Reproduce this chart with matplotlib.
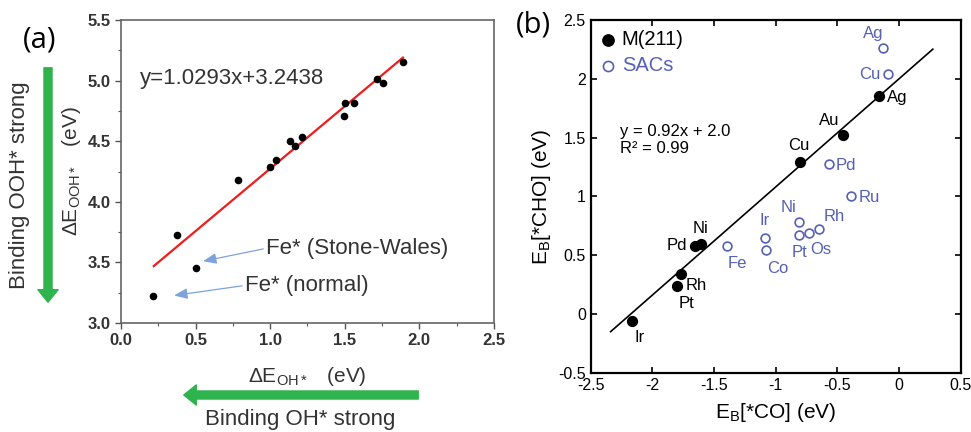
import numpy as np
import matplotlib.pyplot as plt
from matplotlib.patches import FancyArrowPatch
from matplotlib.ticker import MultipleLocator

plt.rcParams['font.family'] = ['Liberation Sans', 'DejaVu Sans']
plt.rcParams['mathtext.fontset'] = 'custom'
plt.rcParams['mathtext.rm'] = 'Liberation Sans'
plt.rcParams['mathtext.it'] = 'Liberation Sans'
plt.rcParams['mathtext.default'] = 'regular'

# panel (a): OOH* vs OH* binding
oh = [0.215, 0.374, 0.501, 0.787, 0.998, 1.04, 1.134, 1.166, 1.215,
      1.494, 1.503, 1.564, 1.718, 1.758, 1.893]
ooh = [3.22, 3.726, 3.456, 4.183, 4.288, 4.343, 4.503, 4.461, 4.535,
       4.712, 4.817, 4.817, 5.01, 4.977, 5.153]
fit_a_x = [0.22, 1.89]
fit_a_y = [3.47, 5.19]
a_xticks = [0.0, 0.5, 1.0, 1.5, 2.0, 2.5]
a_yticks = [3.0, 3.5, 4.0, 4.5, 5.0, 5.5]

# panel (b): CHO vs CO binding
m_names = ['Ag', 'Au', 'Cu', 'Ni', 'Pd', 'Rh', 'Pt', 'Ir']
m_co = [-0.159, -0.451, -0.803, -1.608, -1.654, -1.77, -1.803, -2.168]
m_cho = [1.856, 1.522, 1.29, 0.595, 0.581, 0.34, 0.238, -0.057]
sac_names = ['Ag', 'Cu', 'Pd', 'Ru', 'Ni', 'Rh', 'Os', 'Pt', 'Ir', 'Co', 'Fe']
sac_co = [-0.127, -0.086, -0.57, -0.391, -0.808, -0.646, -0.727, -0.813,
          -1.086, -1.078, -1.395]
sac_cho = [2.259, 2.041, 1.275, 1.003, 0.782, 0.72, 0.686, 0.669,
           0.649, 0.544, 0.576]
fit_b_x = [-2.338, 0.274]
fit_b_y = [-0.151, 2.252]

# label offsets in points
m_off = {'Ag': (12.7, -1.4), 'Au': (-10, 10.3), 'Cu': (-0.5, 12), 'Ni': (0, 11.3),
         'Pd': (-12.7, 0), 'Rh': (11, -8.6), 'Pt': (7.2, -12.5), 'Ir': (5.5, -12.2)}
sac_off = {'Ag': (-7.2, 10.8), 'Cu': (-13.7, -0.7), 'Pd': (12.5, -1.2), 'Ru': (13.4, -1.2),
           'Ni': (-7.9, 10.6), 'Rh': (10.8, 9.1), 'Os': (8.2, -12), 'Pt': (0.2, -12.2),
           'Ir': (0, 12.2), 'Co': (8.4, -13.2), 'Fe': (7.4, -12.2)}

green = '#2fb34c'
blue = '#5560b5'
grey_txt = '#333333'

fig = plt.figure(figsize=(9.71, 4.32), dpi=100)

# ---------- (a) ----------
ax1 = fig.add_axes([0.1246, 0.2523, 0.3841, 0.7014])
ax1.scatter(oh, ooh, s=20, color='black', zorder=3)
ax1.plot(fit_a_x, fit_a_y, color='#ee1c1c', lw=1.6, zorder=2)
ax1.set_xticks(a_xticks, ['%.1f' % v for v in a_xticks], fontweight='bold')
ax1.set_yticks(a_yticks, ['%.1f' % v for v in a_yticks], fontweight='bold')
ax1.set_xlim(0, 2.5)
ax1.set_ylim(3.0, 5.5)
ax1.xaxis.set_minor_locator(MultipleLocator(0.25))
ax1.yaxis.set_minor_locator(MultipleLocator(0.25))
ax1.tick_params(which='both', direction='out', colors='#555555', labelcolor=grey_txt,
                labelsize=12, top=False, right=False)
ax1.tick_params(which='major', length=4, width=1)
ax1.tick_params(which='minor', length=2.5, width=0.8)
for sp in ax1.spines.values():
    sp.set_color('#666666')
    sp.set_linewidth(1.2)
ax1.set_xlabel(r'$\Delta$E$_{OH*}$   (eV)', fontsize=15, color=grey_txt, labelpad=12)
ax1.set_ylabel(r'$\Delta$E$_{OOH*}$   (eV)', fontsize=15, color=grey_txt, labelpad=3)
ax1.text(0.13, 5.02, 'y=1.0293x+3.2438', fontsize=16, color=grey_txt, va='center')
arr = dict(arrowstyle='-|>,head_length=0.5,head_width=0.2', color='#7ea3dc', lw=0.9,
           shrinkA=0, shrinkB=0, relpos=(0, 0.5))
ax1.annotate('Fe* (Stone-Wales)', xy=(0.55, 3.51), xytext=(0.973, 3.616),
             fontsize=16, color=grey_txt, va='center', ha='left', arrowprops=arr)
ax1.annotate('Fe* (normal)', xy=(0.356, 3.227), xytext=(0.83, 3.31),
             fontsize=16, color=grey_txt, va='center', ha='left', arrowprops=arr)

fig.text(40 / 971, 1 - 40 / 432, '(a)', fontsize=21, ha='center', va='center',
         family=['Open Sans', 'DejaVu Sans'])
fig.text(20 / 971, 1 - 185 / 432, 'Binding OOH* strong', rotation=90, fontsize=16,
         color=grey_txt, ha='center', va='center')
fig.text(300 / 971, 1 - 419 / 432, 'Binding OH* strong', fontsize=16,
         color=grey_txt, ha='center', va='center')
fig.add_artist(FancyArrowPatch((48 / 971, 1 - 65 / 432), (48 / 971, 1 - 305 / 432),
                               transform=fig.transFigure, color=green, mutation_scale=10,
                               arrowstyle='simple,head_length=0.9,head_width=1.45,tail_width=0.58'))
fig.add_artist(FancyArrowPatch((421 / 971, 1 - 395 / 432), (181 / 971, 1 - 395 / 432),
                               transform=fig.transFigure, color=green, mutation_scale=10,
                               arrowstyle='simple,head_length=0.9,head_width=1.45,tail_width=0.58'))

# ---------- (b) ----------
ax2 = fig.add_axes([0.6083, 0.1373, 0.3811, 0.8164])
ax2.plot(fit_b_x, fit_b_y, color='black', lw=1.2, zorder=2)
h1 = ax2.scatter(m_co, m_cho, s=50, color='black', zorder=3, label='M(211)')
h2 = ax2.scatter(sac_co, sac_cho, s=40, facecolor='white', edgecolor=blue, lw=1.2,
                 zorder=3, label='SACs')
for n, x, y in zip(m_names, m_co, m_cho):
    ax2.annotate(n, (x, y), xytext=m_off[n], textcoords='offset points',
                 ha='center', va='center', fontsize=12, color='black')
for n, x, y in zip(sac_names, sac_co, sac_cho):
    ax2.annotate(n, (x, y), xytext=sac_off[n], textcoords='offset points',
                 ha='center', va='center', fontsize=12, color=blue)
ax2.text(-2.26, 1.48, 'y = 0.92x + 2.0\nR\u00b2 = 0.99', fontsize=12, va='center',
         linespacing=1.15)
ax2.set_xlim(-2.5, 0.5)
ax2.set_ylim(-0.5, 2.5)
ax2.xaxis.set_major_locator(MultipleLocator(0.5))
ax2.yaxis.set_major_locator(MultipleLocator(0.5))
ax2.xaxis.set_major_formatter(lambda v, p: '%g' % v)
ax2.yaxis.set_major_formatter(lambda v, p: '%g' % v)
ax2.tick_params(direction='in', top=True, right=True, length=4, width=1.2, labelsize=11.5)
for sp in ax2.spines.values():
    sp.set_linewidth(1.6)
ax2.set_xlabel('E$_B$[*CO] (eV)', fontsize=15, labelpad=6)
ax2.set_ylabel('E$_B$[*CHO] (eV)', fontsize=15, labelpad=4)
leg = ax2.legend(handles=[h1, h2], loc='upper left', frameon=False, fontsize=14.5,
                 handlelength=0.7, handletextpad=0.35, borderaxespad=0.2,
                 labelspacing=0.35, borderpad=0.3, markerscale=1.15)
leg.get_texts()[1].set_color(blue)

fig.text(533 / 971, 1 - 25 / 432, '(b)', fontsize=21, ha='center', va='center',
         family=['Open Sans', 'DejaVu Sans'])

fig.savefig('out.png', dpi=100)
